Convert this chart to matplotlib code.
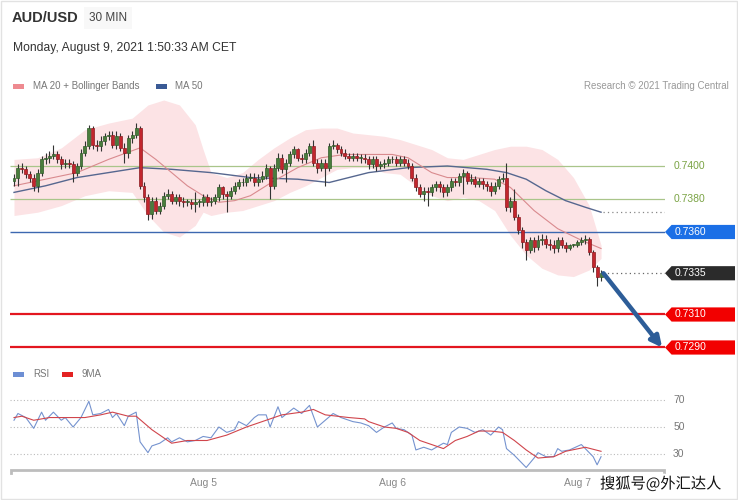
import numpy as np
import matplotlib.pyplot as plt
from matplotlib.patches import Polygon, Rectangle
import matplotlib.patheffects as pe

plt.rcParams['font.family'] = ['Liberation Sans', 'Noto Sans CJK SC', 'DejaVu Sans']

# ---- price data (30 min candles) ----
first_open = 0.7391
closes = [
    0.7393, 0.7399, 0.7398, 0.7395, 0.7393, 0.7388, 0.7396, 0.7404, 0.7405, 0.7406,
    0.7407, 0.7404, 0.7401, 0.7402, 0.7401, 0.7396, 0.7400, 0.7408, 0.7412, 0.7423,
    0.7413, 0.7412, 0.7415, 0.7418, 0.7419, 0.7413, 0.7418, 0.7411, 0.7408, 0.7417,
    0.7419, 0.7423, 0.7388, 0.7381, 0.7371, 0.7379, 0.7373, 0.7376, 0.7382, 0.7383,
    0.7379, 0.7381, 0.7379, 0.7378, 0.7378, 0.7377, 0.7378, 0.7378, 0.7381, 0.7378,
    0.7379, 0.7381, 0.7387, 0.7383, 0.7382, 0.7385, 0.7388, 0.7390, 0.7390, 0.7393,
    0.7393, 0.7390, 0.7392, 0.7394, 0.7399, 0.7388, 0.7399, 0.7405, 0.7398, 0.7402,
    0.7407, 0.7410, 0.7405, 0.7404, 0.7408, 0.7412, 0.7402, 0.7399, 0.7402, 0.7399,
    0.7412, 0.7413, 0.7410, 0.7408, 0.7406, 0.7405, 0.7406, 0.7405, 0.7405, 0.7404,
    0.7401, 0.7404, 0.7400, 0.7401, 0.7402, 0.7404, 0.7404, 0.7402, 0.7404, 0.7402,
    0.7400, 0.7393, 0.7387, 0.7383, 0.7385, 0.7384, 0.7387, 0.7389, 0.7387, 0.7384,
    0.7387, 0.7391, 0.7390, 0.7394, 0.7396, 0.7391, 0.7392, 0.7389, 0.7391, 0.7389,
    0.7388, 0.7385, 0.7388, 0.7392, 0.7393, 0.7375, 0.7379, 0.7369, 0.7361, 0.7354,
    0.7349, 0.7355, 0.7351, 0.7355, 0.7356, 0.7353, 0.7352, 0.7350, 0.7355, 0.7352,
    0.7350, 0.7352, 0.7352, 0.7354, 0.7355, 0.7356, 0.7348, 0.7339, 0.7333, 0.7335,
]
highs = [
    0.7395, 0.7401, 0.7402, 0.7400, 0.7397, 0.7395, 0.7398, 0.7406, 0.7408, 0.7409,
    0.7413, 0.7409, 0.7406, 0.7404, 0.7404, 0.7403, 0.7402, 0.7410, 0.7415, 0.7425,
    0.7424, 0.7416, 0.7418, 0.7420, 0.7421, 0.7421, 0.7421, 0.7420, 0.7414, 0.7419,
    0.7421, 0.7426, 0.7424, 0.7390, 0.7383, 0.7381, 0.7381, 0.7378, 0.7384, 0.7386,
    0.7385, 0.7383, 0.7383, 0.7381, 0.7380, 0.7380, 0.7384, 0.7380, 0.7383, 0.7383,
    0.7381, 0.7383, 0.7389, 0.7388, 0.7385, 0.7387, 0.7390, 0.7392, 0.7393, 0.7395,
    0.7396, 0.7396, 0.7395, 0.7397, 0.7401, 0.7400, 0.7401, 0.7408, 0.7407, 0.7404,
    0.7409, 0.7412, 0.7411, 0.7407, 0.7410, 0.7414, 0.7416, 0.7404, 0.7404, 0.7404,
    0.7414, 0.7416, 0.7414, 0.7412, 0.7410, 0.7408, 0.7408, 0.7408, 0.7407, 0.7407,
    0.7406, 0.7406, 0.7406, 0.7403, 0.7404, 0.7406, 0.7406, 0.7406, 0.7406, 0.7406,
    0.7404, 0.7402, 0.7395, 0.7389, 0.7387, 0.7387, 0.7389, 0.7391, 0.7391, 0.7389,
    0.7389, 0.7393, 0.7393, 0.7396, 0.7398, 0.7397, 0.7395, 0.7394, 0.7393, 0.7393,
    0.7391, 0.7390, 0.7390, 0.7394, 0.7396, 0.7402, 0.7381, 0.7386, 0.7371, 0.7363,
    0.7356, 0.7357, 0.7357, 0.7358, 0.7359, 0.7358, 0.7356, 0.7355, 0.7357, 0.7357,
    0.7354, 0.7353, 0.7353, 0.7355, 0.7357, 0.7358, 0.7357, 0.7349, 0.7340, 0.7337,
]
lows = [
    0.7388, 0.7388, 0.7396, 0.7393, 0.7390, 0.7385, 0.7384, 0.7394, 0.7401, 0.7402,
    0.7404, 0.7402, 0.7398, 0.7399, 0.7399, 0.7390, 0.7394, 0.7398, 0.7406, 0.7410,
    0.7410, 0.7409, 0.7409, 0.7413, 0.7416, 0.7411, 0.7410, 0.7409, 0.7402, 0.7405,
    0.7414, 0.7417, 0.7386, 0.7378, 0.7367, 0.7368, 0.7371, 0.7371, 0.7374, 0.7380,
    0.7377, 0.7377, 0.7376, 0.7375, 0.7376, 0.7374, 0.7372, 0.7375, 0.7376, 0.7376,
    0.7376, 0.7377, 0.7379, 0.7380, 0.7372, 0.7380, 0.7383, 0.7386, 0.7388, 0.7388,
    0.7391, 0.7388, 0.7388, 0.7390, 0.7392, 0.7380, 0.7386, 0.7397, 0.7396, 0.7390,
    0.7400, 0.7405, 0.7403, 0.7402, 0.7402, 0.7406, 0.7400, 0.7396, 0.7397, 0.7388,
    0.7397, 0.7410, 0.7408, 0.7406, 0.7404, 0.7403, 0.7403, 0.7403, 0.7402, 0.7402,
    0.7398, 0.7399, 0.7397, 0.7398, 0.7399, 0.7400, 0.7402, 0.7400, 0.7400, 0.7400,
    0.7398, 0.7391, 0.7385, 0.7381, 0.7379, 0.7376, 0.7382, 0.7385, 0.7384, 0.7381,
    0.7382, 0.7385, 0.7388, 0.7388, 0.7383, 0.7389, 0.7389, 0.7387, 0.7387, 0.7386,
    0.7385, 0.7382, 0.7383, 0.7386, 0.7390, 0.7373, 0.7372, 0.7367, 0.7359, 0.7350,
    0.7343, 0.7347, 0.7348, 0.7349, 0.7352, 0.7350, 0.7349, 0.7347, 0.7348, 0.7350,
    0.7348, 0.7349, 0.7351, 0.7351, 0.7352, 0.7353, 0.7346, 0.7336, 0.7327, 0.7330,
]

# indicators (candle index, value)
band_idx = [0, 6, 12, 18, 24, 30, 34, 38, 42, 46, 48, 50, 54, 58, 62, 66, 70, 74, 78,
            82, 86, 90, 94, 98, 102, 106, 110, 114, 118, 122, 126, 130, 134, 138, 142, 146, 149]
band_up = [0.7404, 0.7405, 0.7411, 0.7422, 0.7426, 0.7429, 0.7437, 0.7440, 0.7437, 0.7425,
           0.7410, 0.7396, 0.7393, 0.7396, 0.7404, 0.7411, 0.7417, 0.7422, 0.7423, 0.7423,
           0.7420, 0.7419, 0.7418, 0.7416, 0.7413, 0.7410, 0.7405, 0.7404, 0.7407, 0.7410,
           0.7412, 0.7412, 0.7410, 0.7404, 0.7393, 0.7376, 0.7352]
band_lo = [0.7370, 0.7372, 0.7376, 0.7382, 0.7385, 0.7384, 0.7370, 0.7360, 0.7357, 0.7364,
           0.7372, 0.7370, 0.7372, 0.7373, 0.7376, 0.7379, 0.7384, 0.7388, 0.7393, 0.7398,
           0.7399, 0.7399, 0.7396, 0.7395, 0.7388, 0.7382, 0.7379, 0.7381, 0.7379, 0.7373,
           0.7358, 0.7346, 0.7338, 0.7334, 0.7333, 0.7337, 0.7344]

ma20_idx = [0, 8, 16, 24, 32, 36, 40, 44, 48, 52, 56, 60, 66, 72, 78, 84, 90, 96, 100,
            106, 110, 116, 122, 126, 132, 138, 144, 149]
ma20_val = [0.7388, 0.7392, 0.7396, 0.7404, 0.7411, 0.7404, 0.7396, 0.7388, 0.7382, 0.7378,
            0.7379, 0.7382, 0.7391, 0.7399, 0.7405, 0.7407, 0.7407, 0.7407, 0.7405, 0.7396,
            0.7393, 0.7393, 0.7392, 0.7387, 0.7373, 0.7362, 0.7355, 0.7350]

ma50_idx = [0, 8, 16, 24, 32, 40, 50, 60, 72, 80, 90, 100, 110, 120, 125, 130, 135, 140, 145, 149]
ma50_val = [0.7384, 0.7388, 0.7393, 0.7396, 0.7399, 0.7398, 0.7396, 0.7393, 0.7392, 0.7390,
            0.7396, 0.7399, 0.7400, 0.7398, 0.7396, 0.7392, 0.7385, 0.7379, 0.7375, 0.7372]

rsi_idx = [0, 1, 3, 5, 7, 8, 10, 12, 13, 15, 17, 18, 19, 20, 22, 24, 25, 26, 28, 29,
           31, 32, 34, 35, 37, 39, 40, 42, 44, 46, 48, 50, 52, 54, 56, 57, 59, 61, 62, 64,
           65, 67, 68, 71, 73, 75, 77, 79, 81, 83, 86, 88, 90, 92, 94, 96, 97, 99, 101, 102,
           104, 106, 109, 110, 111, 113, 115, 117, 119, 121, 123, 124, 125, 127, 130, 132, 133, 135, 137, 138,
           139, 141, 144, 145, 147, 148, 149]
rsi_val = [55, 60, 57, 49, 61, 55, 61, 55, 57, 50, 57, 63, 69, 59, 60, 63, 57, 60, 51, 58,
           61, 39, 31, 36, 38, 42, 39, 42, 39, 40, 43, 42, 50, 46, 48, 54, 51, 57, 59, 59,
           50, 65, 57, 64, 60, 66, 50, 55, 60, 57, 54, 53, 51, 46, 50, 53, 49, 48, 44, 33,
           35, 33, 38, 37, 46, 50, 49, 46, 48, 44, 50, 48, 34, 29, 20, 27, 31, 28, 28, 34,
           32, 33, 37, 34, 28, 22, 28]
ma9_idx = [0, 2, 5, 9, 13, 18, 22, 25, 29, 31, 35, 37, 40, 44, 49, 54, 59, 64, 68, 73,
           76, 79, 85, 89, 90, 94, 97, 100, 103, 106, 109, 112, 115, 118, 121, 124, 127, 130, 133, 137,
           140, 145, 149]
ma9_val = [57, 58, 55, 57, 57, 57, 59, 61, 58, 58, 48, 44, 38, 40, 40, 44, 50, 55, 59, 61,
           63, 59, 57, 56, 54, 50, 49, 46, 40, 37, 34, 40, 43, 47, 47, 46, 40, 33, 27, 28,
           32, 35, 32]

green_levels = [0.7400, 0.7380]
pivot_level = 0.7360
red_levels = [0.7310, 0.7290]
last_price = 0.7335
target = 0.7290
date_idx = [48, 96, 143]
date_lbl = ['Aug 5', 'Aug 6', 'Aug 7']

# ---- figure ----
W, H = 738, 500
fig = plt.figure(figsize=(W / 100, H / 100), dpi=100)


def px_axes(x0, y0, x1, y1):
    return fig.add_axes([x0 / W, 1 - y1 / H, (x1 - x0) / W, (y1 - y0) / H])


def fx(x):
    return x / W


def fy(y):
    return 1 - y / H


fig.patches.append(Rectangle((0.001, 0.003), 0.997, 0.995, transform=fig.transFigure,
                             fill=False, ec='#e2e2e2', lw=1))

fig.text(fx(12), fy(18), 'AUD/USD', fontsize=10.5, fontweight='bold', color='#333333', va='center')
fig.text(fx(89), fy(18), '30 MIN', fontsize=8.5, color='#444444', va='center',
         bbox=dict(boxstyle='square,pad=0.45', fc='#f8f8f8', ec='none'))
fig.text(fx(13), fy(48), 'Monday, August 9, 2021 1:50:33 AM CET', fontsize=8.7, color='#333333', va='center')

fig.patches.append(Rectangle((fx(13), fy(89)), 11 / W, 5 / H, transform=fig.transFigure, fc='#ee8a90', ec='none'))
fig.text(fx(33), fy(86), 'MA 20 + Bollinger Bands', fontsize=7, color='#777777', va='center')
fig.patches.append(Rectangle((fx(156), fy(89)), 11 / W, 5 / H, transform=fig.transFigure, fc='#3a5a95', ec='none'))
fig.text(fx(175), fy(86), 'MA 50', fontsize=7, color='#777777', va='center')
fig.text(fx(729), fy(86), 'Research \u00a9 2021 Trading Central', fontsize=7, color='#999999',
         va='center', ha='right')

# ---- price panel ----
xl = (-1.015, 165.23)
ax = px_axes(10, 95, 665, 360)
ax.set_xlim(*xl)
ax.set_ylim(0.728242, 0.744303)
ax.axis('off')

ax.fill_between(band_idx, band_lo, band_up, color='#fce3e5', lw=0, zorder=1)
ax.plot(ma50_idx, ma50_val, color='#56678f', lw=1.0, zorder=3)
ax.plot(ma20_idx, ma20_val, color='#d98a8e', lw=0.8, zorder=3)

for lv in green_levels:
    ax.hlines(lv, xl[0], xl[1], color='#a9c58a', lw=0.9, zorder=2)
    ax.text(167.3, lv, f'{lv:.4f}', color='#7aa344', fontsize=7.5, va='center', clip_on=False)
ax.hlines(pivot_level, xl[0], xl[1], color='#3c68b0', lw=1.0, zorder=2)
for lv in red_levels:
    ax.hlines(lv, xl[0], xl[1], color='#e3161f', lw=1.6, zorder=2)

n = len(closes)
idx = np.arange(n)
opens = np.array([first_open] + closes[:-1])
cl = np.array(closes)
up = cl >= opens
ax.vlines(idx, lows, highs, color='#333333', lw=0.8, zorder=4)
body_lo = np.minimum(opens, cl)
body_h = np.maximum(np.abs(cl - opens), 0.00005)
ax.bar(idx[up], body_h[up], bottom=body_lo[up], width=0.75, color='#4a7d3c', ec='#2f5a28', lw=0.5, zorder=5)
ax.bar(idx[~up], body_h[~up], bottom=body_lo[~up], width=0.75, color='#c2262d', ec='#8c1a20', lw=0.5, zorder=5)

ax.hlines(ma50_val[-1], ma50_idx[-1] + 0.5, xl[1], color='#888888', lw=0.9, linestyles=(0, (1, 2.5)))
ax.hlines(last_price, n - 0.5, xl[1], color='#666666', lw=0.9, linestyles=(0, (1, 2.5)))


def tag(level, color):
    h = 0.00043
    pts = [(xl[1], level), (166.9, level + h), (183.0, level + h), (183.0, level - h), (166.9, level - h)]
    ax.add_patch(Polygon(pts, closed=True, fc=color, ec='none', clip_on=False, zorder=6))
    ax.text(167.6, level, f'{level:.4f}', color='white', fontsize=7.5, va='center', clip_on=False, zorder=7)


tag(pivot_level, '#1b6fe6')
tag(last_price, '#2b2b2b')
for lv in red_levels:
    tag(lv, '#f20000')

ax.annotate('', xy=(164.5, target), xytext=(n - 0.4, last_price),
            arrowprops=dict(arrowstyle='-|>', color='#2d5d98', lw=3.2, mutation_scale=16,
                            shrinkA=0, shrinkB=0), annotation_clip=False, zorder=8)

# ---- RSI panel ----
fig.patches.append(Rectangle((fx(13), fy(377)), 11 / W, 5 / H, transform=fig.transFigure, fc='#6d8fd4', ec='none'))
fig.text(fx(33), fy(374), 'RSI', fontsize=7, color='#777777', va='center')
fig.patches.append(Rectangle((fx(62), fy(377)), 11 / W, 5 / H, transform=fig.transFigure, fc='#e32222', ec='none'))
fig.text(fx(82), fy(374), '9MA', fontsize=7, color='#777777', va='center')

rx = px_axes(10, 385, 665, 470)
rx.set_xlim(*xl)
rx.set_ylim(18.15, 81.11)
rx.axis('off')
for lv in [70, 50, 30]:
    rx.hlines(lv, xl[0], xl[1], color='#bbbbbb', lw=0.8, linestyles=(0, (1, 2)))
    rx.text(167.3, lv, str(lv), color='#777777', fontsize=7.5, va='center', clip_on=False)
rx.plot(rsi_idx, rsi_val, color='#7593cf', lw=0.8, zorder=3)
rx.plot(ma9_idx, ma9_val, color='#d0454c', lw=0.8, zorder=4)

# time axis
rx.plot([xl[0] + 0.3, xl[0] + 0.3, xl[1] - 0.3, xl[1] - 0.3], [16.0, 18.15, 18.15, 16.0],
        color='#bdbdbd', lw=2, clip_on=False, solid_joinstyle='miter')
for i, lb in zip(date_idx, date_lbl):
    rx.text(i, 8.5, lb, color='#888888', fontsize=7.5, ha='center', va='center', clip_on=False)

fig.text(fx(600), fy(484), '搜狐号@外汇达人', fontsize=11, color='#111111', va='center',
         family=['Noto Sans CJK SC', 'DejaVu Sans'],
         path_effects=[pe.withStroke(linewidth=3, foreground='white')])

fig.savefig('out.png', dpi=100)
